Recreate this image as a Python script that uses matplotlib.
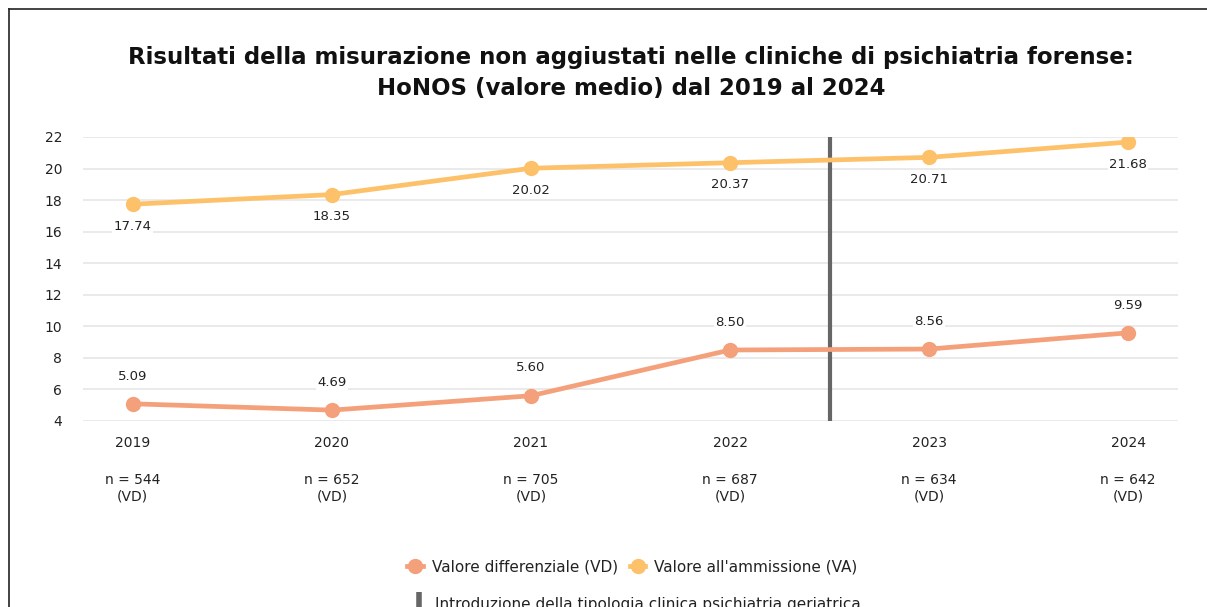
import matplotlib.pyplot as plt
from matplotlib.lines import Line2D

# data
years = ['2019', '2020', '2021', '2022', '2023', '2024']
vd_values = [5.09, 4.69, 5.60, 8.50, 8.56, 9.59]
va_values = [17.74, 18.35, 20.02, 20.37, 20.71, 21.68]
n_counts = [544, 652, 705, 687, 634, 642]
intro_pos = 3.5  # between 2022 and 2023

vd_color = '#F4A07A'
va_color = '#FDC16A'
bar_color = '#666666'
text_color = '#222222'

plt.rcParams['font.family'] = ['DejaVu Sans']

fig = plt.figure(figsize=(12.07, 6.07), dpi=100)
ax = fig.add_axes([83 / 1207, 1 - 421 / 607, (1178 - 83) / 1207, (421 - 137) / 607])

x = list(range(len(years)))
ax.plot(x, vd_values, color=vd_color, lw=3.4, marker='o', ms=10, zorder=3)
ax.plot(x, va_values, color=va_color, lw=3.4, marker='o', ms=10, zorder=3)
ax.axvline(intro_pos, color=bar_color, lw=3, zorder=2)

for i, v in enumerate(vd_values):
    ax.annotate(f'{v:.2f}', (i, v), xytext=(0, 20), textcoords='offset points',
                ha='center', va='center', fontsize=9.5, color=text_color,
                bbox=dict(boxstyle='square,pad=0.1', fc='white', ec='none'), zorder=4)
for i, v in enumerate(va_values):
    ax.annotate(f'{v:.2f}', (i, v), xytext=(0, -16), textcoords='offset points',
                ha='center', va='center', fontsize=9.5, color=text_color,
                bbox=dict(boxstyle='square,pad=0.1', fc='white', ec='none'), zorder=4)

ax.set_xlim(-0.25, len(years) - 0.75)
ax.set_ylim(4, 22)
ax.set_yticks(range(4, 23, 2))
ax.set_xticks(x)
ax.set_xticklabels(years)
ax.grid(axis='y', color='#E6E6E6', lw=1.2)
ax.set_axisbelow(True)
for s in ax.spines.values():
    s.set_visible(False)
ax.tick_params(length=0, labelsize=10, colors=text_color)
ax.tick_params(axis='x', pad=11)
ax.tick_params(axis='y', pad=15)

# sample sizes under the years
for i, n in enumerate(n_counts):
    ax.text(i, -0.236, f'n = {n}\n(VD)', transform=ax.get_xaxis_transform(),
            ha='center', va='center', fontsize=10, color=text_color, linespacing=1.2)

fig.text(0.523, 1 - 73 / 607,
         'Risultati della misurazione non aggiustati nelle cliniche di psichiatria forense:\n'
         'HoNOS (valore medio) dal 2019 al 2024',
         ha='center', va='center', fontsize=16.5, fontweight='bold', color='#111111',
         linespacing=1.45)

handles = [Line2D([], [], color=vd_color, lw=3.4, marker='o', ms=10),
           Line2D([], [], color=va_color, lw=3.4, marker='o', ms=10)]
fig.legend(handles, ['Valore differenziale (VD)', "Valore all'ammissione (VA)"],
           loc='center', bbox_to_anchor=(0.524, 1 - 567 / 607), ncol=2, frameon=False,
           fontsize=11, handlelength=1.0, handletextpad=0.6, columnspacing=0.8,
           labelcolor=text_color)
fig.legend([Line2D([], [], color=bar_color, marker='|', ms=16, mew=4, ls='none')],
           ['Introduzione della tipologia clinica psichiatria geriatrica'],
           loc='center', bbox_to_anchor=(0.527, 1 - 604 / 607), frameon=False,
           fontsize=11, handlelength=1.0, handletextpad=0.6, labelcolor=text_color)

# frame round the chart (only top and left visible in the crop)
fig.add_artist(Line2D([9 / 1207, 9 / 1207], [0, 1 - 9 / 607], color='#222222', lw=1.2))
fig.add_artist(Line2D([9 / 1207, 1], [1 - 9 / 607, 1 - 9 / 607], color='#222222', lw=1.2))

fig.savefig('out.png', dpi=100)
